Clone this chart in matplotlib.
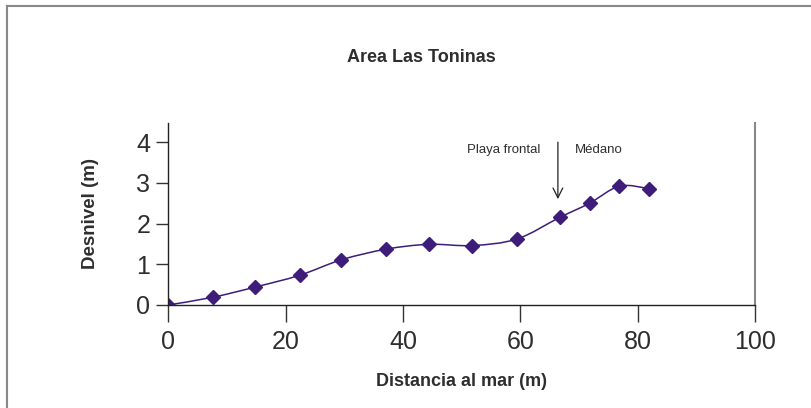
import numpy as np
import matplotlib
matplotlib.use("Agg")
import matplotlib.pyplot as plt
from matplotlib.path import Path
from matplotlib.patches import PathPatch
from matplotlib.lines import Line2D

plt.rcParams['font.family'] = ['Liberation Sans', 'DejaVu Sans']

# perfil de playa, distancia al mar vs desnivel
distancia = [0, 7.6, 14.8, 22.4, 29.5, 37.1, 44.4, 51.8, 59.4, 66.7, 71.8, 76.9, 81.9]
desnivel = [0.0, 0.19, 0.44, 0.73, 1.11, 1.37, 1.49, 1.46, 1.62, 2.15, 2.50, 2.92, 2.86]
xticks = [0, 20, 40, 60, 80, 100]
yticks = [0, 1, 2, 3, 4]
titulo = "Area Las Toninas"
xlabel = "Distancia al mar (m)"
ylabel = "Desnivel (m)"
limite = 66.4  # limite playa frontal / medano

col = "#3d1c7a"
txt = "#2e2e2e"

fig = plt.figure(figsize=(8.11, 4.08), dpi=100)
ax = fig.add_axes([0.2075, 0.2525, 0.7235, 0.446])

# linea suavizada tipo excel (bezier con tangentes catmull-rom)
pts = np.column_stack([distancia, desnivel])
verts = [pts[0]]
codes = [Path.MOVETO]
for i in range(len(pts) - 1):
    p0 = pts[max(i - 1, 0)]
    p1 = pts[i]
    p2 = pts[i + 1]
    p3 = pts[min(i + 2, len(pts) - 1)]
    c1 = p1 + (p2 - p0) / 6.0
    c2 = p2 - (p3 - p1) / 6.0
    verts += [c1, c2, p2]
    codes += [Path.CURVE4] * 3
ax.add_patch(PathPatch(Path(verts, codes), facecolor="none", edgecolor=col, lw=1.1))
ax.plot(distancia, desnivel, ls="none", marker="D", ms=7, color=col)

ax.set_xlim(0, 100)
ax.set_ylim(0, 4.47)
ax.set_xticks(xticks)
ax.set_yticks(yticks)
ax.tick_params(axis="x", direction="out", length=12, width=1, colors="#333333",
               labelsize=18, labelcolor=txt, pad=6)
ax.tick_params(axis="y", direction="out", length=9, width=1, colors="#333333",
               labelsize=18, labelcolor=txt, pad=4)
ax.spines["top"].set_visible(False)
ax.spines["right"].set_color("#888888")
ax.spines["right"].set_linewidth(1.5)
for s in ["left", "bottom"]:
    ax.spines[s].set_color("#222222")
    ax.spines[s].set_linewidth(1)

ax.set_xlabel(xlabel, fontsize=13, fontweight="bold", color=txt, labelpad=14)
ax.set_ylabel(ylabel, fontsize=13.5, fontweight="bold", color=txt, labelpad=27)
fig.text(0.519, 0.86, titulo, fontsize=13, fontweight="bold", color=txt,
         ha="center", va="center")

ax.annotate("", xy=(limite, 2.6), xytext=(limite, 4.0),
            arrowprops=dict(arrowstyle="->,head_length=0.7,head_width=0.35",
                            color="#222222", lw=0.9, shrinkA=0, shrinkB=0))
ax.text(63.4, 3.8, "Playa frontal", fontsize=9.5, color=txt, ha="right", va="center")
ax.text(69.3, 3.8, "Médano", fontsize=9.5, color=txt, ha="left", va="center")

# marco de la figura
fig.add_artist(Line2D([0.0086, 1.0], [0.985, 0.985], color="#888888", lw=1.5))
fig.add_artist(Line2D([0.0086, 0.0086], [0.0, 0.985], color="#888888", lw=1.5))

fig.savefig("out.png", dpi=100)
